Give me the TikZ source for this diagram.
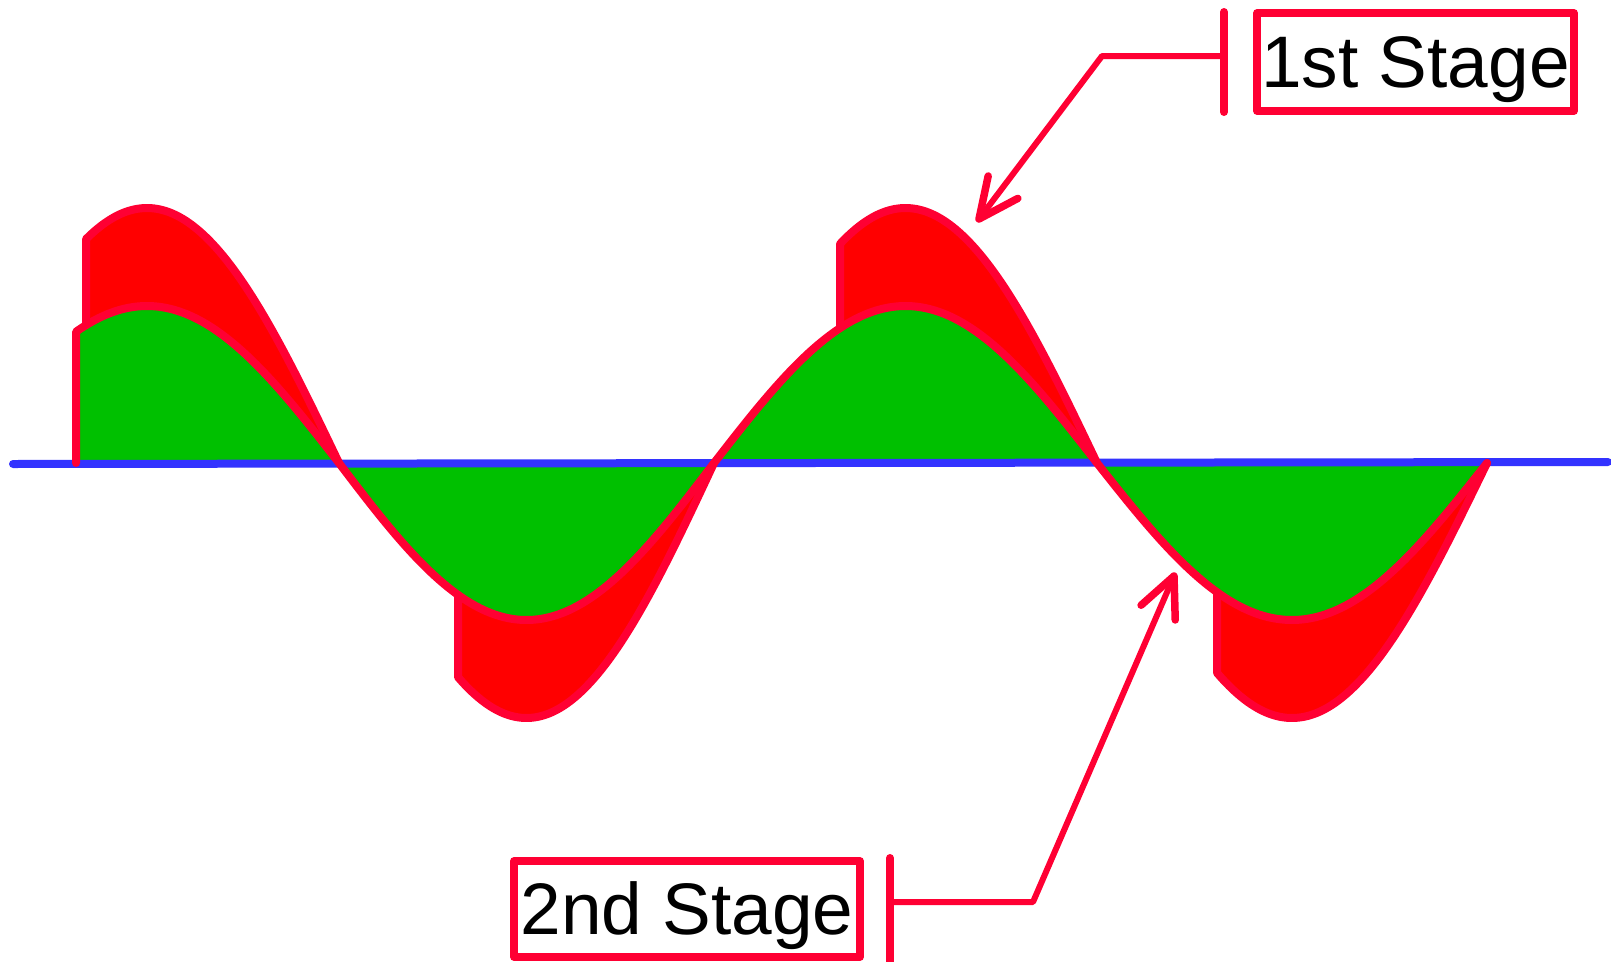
\documentclass[tikz,border=0pt]{standalone}
\usepackage{fontspec}
\setmainfont{Liberation Sans}
\usetikzlibrary{calc}
\definecolor{edgered}{RGB}{255,0,51}
\definecolor{fillred}{RGB}{255,0,0}
\definecolor{fillgreen}{RGB}{0,192,0}
\definecolor{axisblue}{RGB}{51,51,255}

\begin{document}
\begin{tikzpicture}[x=1pt,y=-1pt,
  declare function={
    wA(\x)=sin((\x+45)/384*180);
    wB(\x)=-sin((\x-339)/375*180);
    wC(\x)=sin((\x-714)/383*180);
    wD(\x)=-sin((\x-1097)/390*180);
  },
  outline/.style={draw=edgered, line width=8pt, line join=round, line cap=round},
  leader/.style={draw=edgered, line width=6pt, line join=round, line cap=round},
  tiplines/.style={draw=edgered, line width=7.5pt, line join=round, line cap=round},
  barline/.style={draw=edgered, line width=8pt, line cap=round},
  stagebox/.style={draw=edgered, line width=7.5pt, line join=round,
    minimum width=#1, minimum height=98pt, inner sep=0pt,
    text height=52pt, text depth=2pt, font=\fontsize{73}{86}\selectfont},
  wave/.style={samples=90, smooth}
]
\useasboundingbox (0,0) rectangle (1611,961);

% green area under the low-amplitude wave
\fill[fillgreen] (76,463) -- (76,{463-157*wA(76)})
  -- plot[wave, domain=76:339] (\x,{463-157*wA(\x)})
  -- plot[wave, domain=339:714] (\x,{463-157*wB(\x)})
  -- plot[wave, domain=714:1097] (\x,{463-157*wC(\x)})
  -- plot[wave, domain=1097:1487] (\x,{463-157*wD(\x)}) -- cycle;

% red areas between the two waves
\fill[fillred] plot[wave, domain=86:339] (\x,{463-255*wA(\x)})
  -- plot[wave, domain=339:86] (\x,{463-157*wA(\x)}) -- cycle;
\fill[fillred] plot[wave, domain=458:714] (\x,{463-255*wB(\x)})
  -- plot[wave, domain=714:458] (\x,{463-157*wB(\x)}) -- cycle;
\fill[fillred] plot[wave, domain=840:1097] (\x,{463-255*wC(\x)})
  -- plot[wave, domain=1097:840] (\x,{463-157*wC(\x)}) -- cycle;
\fill[fillred] plot[wave, domain=1217:1487] (\x,{463-255*wD(\x)})
  -- plot[wave, domain=1487:1217] (\x,{463-157*wD(\x)}) -- cycle;

% time axis
\draw[axisblue, line width=8pt, line cap=round] (13,464) -- (1608,462);

% outline of the low-amplitude wave
\draw[outline] (76,463) -- (76,{463-157*wA(76)})
  -- plot[wave, domain=76:339] (\x,{463-157*wA(\x)})
  -- plot[wave, domain=339:714] (\x,{463-157*wB(\x)})
  -- plot[wave, domain=714:1097] (\x,{463-157*wC(\x)})
  -- plot[wave, domain=1097:1487] (\x,{463-157*wD(\x)});

% outlines of the high-amplitude segments
\draw[outline] (86,{463-157*wA(86)}) -- plot[wave, domain=86:339] (\x,{463-255*wA(\x)});
\draw[outline] (458,{463-157*wB(458)}) -- plot[wave, domain=458:714] (\x,{463-255*wB(\x)});
\draw[outline] (840,{463-157*wC(840)}) -- plot[wave, domain=840:1097] (\x,{463-255*wC(\x)});
\draw[outline] (1217,{463-157*wD(1217)}) -- plot[wave, domain=1217:1487] (\x,{463-255*wD(\x)});

% callout: 1st Stage
\node[stagebox=317pt] (first) at (1415.5,62) {1st Stage};
\coordinate (bar1top) at (1224,12);
\coordinate (bar1bot) at (1224,112);
\coordinate (knee1) at (1102,56);
\coordinate (tip1) at (979,219);
\draw[barline] (bar1top) -- (bar1bot);
\draw[leader] (knee1 -| bar1top) -- (knee1) -- (tip1);
\draw[tiplines] ($(tip1)!44pt!25:(knee1)$) -- (tip1) -- ($(tip1)!44pt!-25:(knee1)$);

% callout: 2nd Stage
\node[stagebox=346pt, minimum height=96pt] (second) at (687,909) {2nd Stage};
\coordinate (bar2top) at (890,858);
\coordinate (bar2bot) at (890,968);
\coordinate (knee2) at (1033,902);
\coordinate (tip2) at (1174,576);
\draw[barline] (bar2top) -- (bar2bot);
\draw[leader] (knee2 -| bar2top) -- (knee2) -- (tip2);
\draw[tiplines] ($(tip2)!44pt!25:(knee2)$) -- (tip2) -- ($(tip2)!44pt!-25:(knee2)$);
\end{tikzpicture}
\end{document}
